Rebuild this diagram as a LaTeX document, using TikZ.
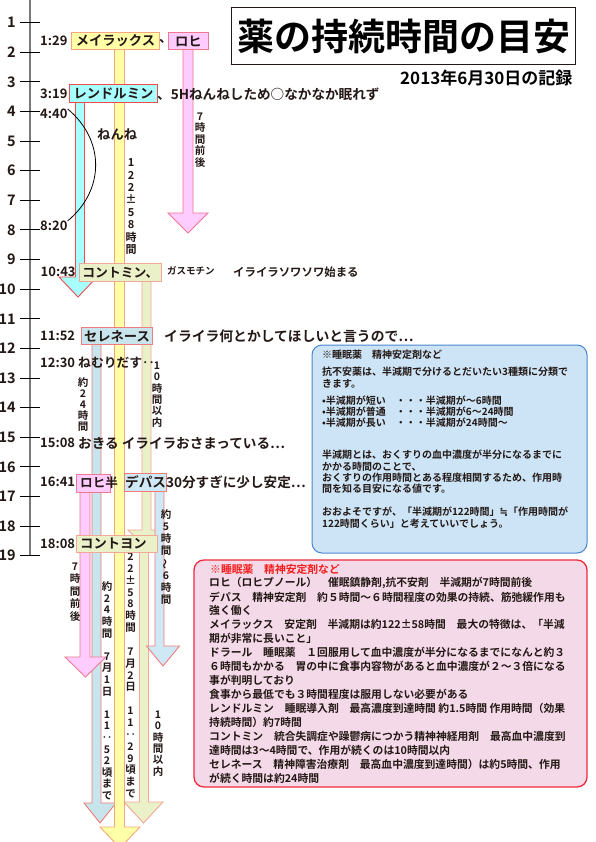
\documentclass[tikz,border=0pt]{standalone}
\usepackage{fontspec}
\usepackage{graphicx}
\setmainfont{Noto Sans CJK JP}[BoldFont={* Bold}]
\newfontfamily\dejavu{DejaVu Sans}
\usetikzlibrary{calc}
\definecolor{yfill}{HTML}{FFFFA8}
\definecolor{ydraw}{HTML}{F4A77E}
\definecolor{pfill}{HTML}{FFCCFF}
\definecolor{pdraw}{HTML}{F07890}
\definecolor{cfill}{HTML}{A8FFFF}
\definecolor{cdraw}{HTML}{EE4C4C}
\definecolor{ofill}{HTML}{EAF0C8}
\definecolor{odraw}{HTML}{F2A896}
\definecolor{sfill}{HTML}{C8E4EC}
\definecolor{sdraw}{HTML}{F07C7C}
\definecolor{dfill}{HTML}{CEE8F5}
\definecolor{ddraw}{HTML}{F07C7C}
\definecolor{bfill}{HTML}{CCE4F6}
\definecolor{bdraw}{HTML}{4A86CF}
\definecolor{kfill}{HTML}{F4DAE8}
\definecolor{kdraw}{HTML}{EE2A3A}
\definecolor{redtxt}{HTML}{F41E1E}
\definecolor{tline}{HTML}{7A7A7A}
\definecolor{txt}{HTML}{231815}
\newcommand\myfs[1]{\fontsize{#1}{#1}\selectfont\bfseries}
\newcommand\myvfs[2]{\fontsize{#1}{#2}\selectfont\bfseries}
\newcommand\vp{\vphantom{国}}
\newcommand\vwave{\rotatebox[origin=c]{90}{〜}}
\newcommand\nearlyeq{{\dejavu\bfseries ≒}}
\newcommand\medarr[9]{\filldraw[fill=#1,draw=#2,line width=0.9pt] (#3-#5,#4) -- (#3-#5,#6) -- (#7-#8,#6) -- (#7,#9) -- (#7+#8,#6) -- (#3+#5,#6) -- (#3+#5,#4);}
\begin{document}
\begin{tikzpicture}[x=1pt,y=-1pt,
  medbox/.style={draw, line width=0.9pt, inner sep=0pt, anchor=north west, text=txt, font=\myfs{13.3}},
  ann/.style={anchor=west, inner sep=0pt, text=txt, font=\myfs{13.3}},
  tlab/.style={anchor=west, inner sep=0pt, text=txt, font=\myfs{13}},
  hlab/.style={anchor=east, inner sep=0pt, text=txt, font=\myfs{14.5}},
  vlab/.style={anchor=north, inner sep=0pt, align=center, text=txt},
  blt/.style={anchor=west, inner sep=0pt, text=txt, font=\myfs{10}},
  pkt/.style={anchor=west, inner sep=0pt, text=txt, font=\myfs{10.8}}]
\useasboundingbox (0,0) rectangle (595,842);
\fill[white] (0,0) rectangle (595,842);

% time axis
\draw[line width=2.2pt, tline] (30,0) -- (30,556);
\foreach \h in {1,...,19} {
  \pgfmathsetmacro\yy{22.7+(\h-1)*29.61}
  \draw[line width=1pt] (20,\yy) -- (40,\yy);
  \node[hlab] (h\h) at (16,\yy) {\h};
}

% medication arrows
\medarr{cfill}{cdraw}{80}{102}{4.5}{277}{78}{19}{297}
\medarr{pfill}{pdraw}{188}{49}{5}{213}{188}{20}{233}
\medarr{ofill}{odraw}{146.5}{281}{4.5}{530}{146}{18}{548}
\medarr{ofill}{odraw}{144}{552}{4.5}{802}{143.5}{19.5}{823}
\medarr{sfill}{sdraw}{96.5}{344}{4.5}{803}{100}{16}{823}
\medarr{dfill}{ddraw}{159.5}{491}{4.5}{646}{163}{16.5}{666}
\medarr{pfill}{pdraw}{85}{492}{5}{657}{85.5}{20.5}{677}
\medarr{yfill}{ydraw}{119.5}{49}{5}{827}{120}{20}{848}

% vertical duration labels
\node[vlab, font=\myvfs{10.5}{11.5}] (v1) at (200,111.5) {\vp{}7\\時\\間\\前\\後};
\node[vlab, font=\myvfs{11}{12.4}] (v2) at (131,157.5) {\vp{}1\\2\\2\\±\\5\\8\\時\\間};
\node[vlab, font=\myvfs{10.5}{11.4}] (v3) at (157,360.5) {\vp{}1\\0\\時\\間\\以\\内};
\node[vlab, font=\myvfs{10.5}{11}] (v4) at (83,377.5) {\vp{}約\\2\\4\\時\\間};
\node[vlab, font=\myvfs{10.5}{12.1}] (v5) at (166,509.5) {\vp{}約\\5\\時\\間\\\vwave\\6\\時\\間};
\node[vlab, font=\myvfs{10.5}{12.5}] (v6) at (75,561.5) {\vp{}7\\時\\間\\前\\後};
\node[vlab, font=\myvfs{10.5}{11.86}] (v7) at (130.5,552.5) {2\\2\\±\\5\\8\\時\\間\\\mbox{}\\7\\月\\2\\日\\\mbox{}\\1\\1\\‥\\2\\9\\頃\\ま\\で};
\node[vlab, font=\myvfs{10.5}{11.6}] (v8) at (107,581.5) {\vp{}約\\2\\4\\時\\間\\\mbox{}\\7\\月\\1\\日\\\mbox{}\\1\\1\\‥\\5\\2\\頃\\ま\\で};
\node[vlab, font=\myvfs{10.5}{11.4}] (v9) at (158,709.5) {\vp{}1\\0\\時\\間\\以\\内};

% medication boxes
\node[medbox, fill=yfill, draw=ydraw, minimum width=88pt, minimum height=17pt] (bMei) at (71,32) {メイラックス};
\node[medbox, fill=pfill, draw=pdraw, minimum width=40pt, minimum height=17pt] (bRohi) at (168,32) {ロヒ};
\node[medbox, fill=cfill, draw=cdraw, minimum width=88pt, minimum height=18pt] (bRen) at (69,84) {レンドルミン};
\node[medbox, fill=ofill, draw=odraw, minimum width=82pt, minimum height=18pt, font=\myfs{12.8}] (bCon) at (79,263) {コントミン、};
\node[medbox, fill=sfill, draw=sdraw, minimum width=71pt, minimum height=17pt] (bSer) at (81,327) {セレネース};
\node[medbox, fill=pfill, draw=pdraw, minimum width=34pt, minimum height=18pt] (bRohi2) at (76,474) {};
\node[medbox, fill=dfill, draw=ddraw, minimum width=42pt, minimum height=18pt] (bDep) at (124,473) {};
\node[medbox, fill=ofill, draw=odraw, minimum width=81pt, minimum height=17pt] (bCon2) at (76,535) {};

% time labels
\node[tlab] (t129) at (40,41) {1:29};
\node[tlab] (t319) at (40,94) {3:19};
\node[tlab] (t440) at (40,114) {4:40};
\node[tlab] (t820) at (40,226) {8:20};
\node[tlab] (t1043) at (40.5,272) {10:43};
\node[tlab] (t1152) at (40,336) {11:52};
\node[tlab] (t1230) at (40,363) {12:30};
\node[tlab] (t1508) at (40,443) {15:08};
\node[tlab] (t1641) at (40,482) {16:41};
\node[tlab] (t1808) at (40,544) {18:08};

% sleep arc
\draw[line width=0.8pt] (t440.north east) .. controls (105,140) and (105,190) .. (t820.north east);

% annotations
\node[ann] (aMei) at (159,41) {、};
\node[ann, font=\myfs{13.6}] (aRen) at (157,94) {、5Hねんねしため○なかなか眠れず};
\node[ann] (aNenne) at (97,134) {ねんね};
\node[ann, font=\myfs{9.5}] (aGas) at (167,271) {ガスモチン};
\node[ann, font=\myfs{11.4}] (aIra1) at (233,272) {イライラソワソワ始まる};
\node[ann, font=\myfs{13.8}] (aIra2) at (164,336) {イライラ何とかしてほしいと言うので…};
\node[ann, font=\myfs{12.8}] (aNemu) at (78,363) {ねむりだす‥};
\node[ann, font=\myfs{13.6}] (aOki) at (78,443) {おきる イライラおさまっている…};
\node[ann, font=\myfs{12.6}] (aRohi2) at (80,483) {ロヒ半};
\node[ann, font=\myfs{13.6}] (aDep) at (125,482) {デパス30分すぎに少し安定…};
\node[ann] (aCon2) at (80,543.5) {コントヨン};

% title
\node[draw=txt, line width=1.3pt, minimum width=344pt, minimum height=57pt, anchor=north west, inner sep=0pt, text=black, font=\myfs{37}] (title) at (231,7) {薬の持続時間の目安};
\node[anchor=west, inner sep=0pt, text=black, font=\myfs{17}] (date) at (400,78.5) {2013年6月30日の記録};

% blue note
\draw[fill=bfill, draw=bdraw, line width=1pt, rounded corners=10pt] (312,345) rectangle (587,553);
\foreach \yy/\txt [count=\i] in {
  355/{※睡眠薬　精神安定剤など},
  371.7/{抗不安薬は、半減期で分けるとだいたい3種類に分類で},
  383.3/{きます。},
  400.7/{•半減期が短い　・・・半減期が〜6時間},
  411.7/{•半減期が普通　・・・半減期が6〜24時間},
  422.7/{•半減期が長い　・・・半減期が24時間〜},
  455/{半減期とは、おくすりの血中濃度が半分になるまでに},
  466.7/{かかる時間のことで、},
  478/{おくすりの作用時間とある程度相関するため、作用時},
  489/{間を知る目安になる値です。},
  511.7/{おおよそですが、「半減期が122時間」\nearlyeq「作用時間が},
  523.3/{122時間くらい」と考えていいでしょう。}}
  \node[blt] (bl\i) at (322,\yy) {\txt};

% pink note
\draw[fill=kfill, draw=kdraw, line width=1.3pt, rounded corners=10pt] (194,560) rectangle (587,787);
\node[pkt, text=redtxt] (pk1) at (210,569) {※睡眠薬　精神安定剤など};
\foreach \txt [count=\i from 2] in {
  {ロヒ（ロヒプノール）　催眠鎮静剤,抗不安剤　半減期が7時間前後},
  {デパス　精神安定剤　約５時間〜６時間程度の効果の持続、筋弛緩作用も},
  {強く働く},
  {メイラックス　安定剤　半減期は約122±58時間　最大の特徴は、「半減},
  {期が非常に長いこと」},
  {ドラール　睡眠薬　１回服用して血中濃度が半分になるまでになんと約３},
  {６時間もかかる　胃の中に食事内容物があると血中濃度が２〜３倍になる},
  {事が判明しており},
  {食事から最低でも３時間程度は服用しない必要がある},
  {レンドルミン　睡眠導入剤　最高濃度到達時間 約1.5時間 作用時間（効果},
  {持続時間）約7時間},
  {コントミン　統合失調症や躁鬱病につかう精神神経用剤　最高血中濃度到},
  {達時間は3〜4時間で、作用が続くのは10時間以内},
  {セレネース　精神障害治療剤　最高血中濃度到達時間）は約5時間、作用},
  {が続く時間は約24時間}}
  \node[pkt] (pk\i) at (209,{569+(\i-1)*13.95}) {\txt};
\end{tikzpicture}
\end{document}
